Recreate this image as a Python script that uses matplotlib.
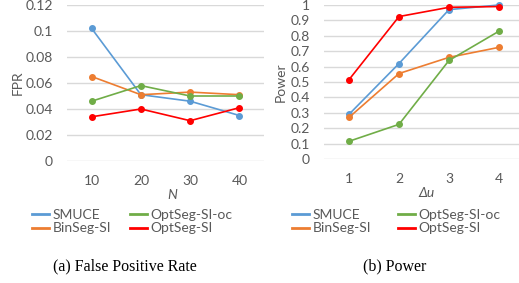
import matplotlib
matplotlib.use("Agg")
import matplotlib.pyplot as plt

# ---- data ----
methods = ["SMUCE", "BinSeg-SI", "OptSeg-SI-oc", "OptSeg-SI"]
colors = ["#5B9BD5", "#ED7D31", "#70AD47", "#FF0000"]

fpr_x = ["10", "20", "30", "40"]
fpr_smuce = [0.102, 0.051, 0.046, 0.035]
fpr_binseg = [0.065, 0.051, 0.053, 0.051]
fpr_optoc = [0.046, 0.058, 0.050, 0.050]
fpr_optseg = [0.034, 0.040, 0.031, 0.041]

pow_x = ["1", "2", "3", "4"]
pow_smuce = [0.29, 0.62, 0.97, 1.00]
pow_binseg = [0.27, 0.555, 0.66, 0.725]
pow_optoc = [0.115, 0.225, 0.64, 0.83]
pow_optseg = [0.515, 0.925, 0.985, 0.99]

fpr_ticks = [0, 0.02, 0.04, 0.06, 0.08, 0.1, 0.12]
fpr_ticklabels = ["0", "0.02", "0.04", "0.06", "0.08", "0.1", "0.12"]
pow_ticks = [0, 0.1, 0.2, 0.3, 0.4, 0.5, 0.6, 0.7, 0.8, 0.9, 1.0]
pow_ticklabels = ["0", "0.1", "0.2", "0.3", "0.4", "0.5", "0.6", "0.7", "0.8", "0.9", "1"]

W, H = 519, 283
fig = plt.figure(figsize=(W / 100, H / 100), dpi=100)
plt.rcParams["font.family"] = ["Lato", "DejaVu Sans"]
GRAY = "#595959"
GRID = "#D9D9D9"
FS = 10


def px_axes(x0, y0, x1, y1):
    return fig.add_axes([x0 / W, 1 - y1 / H, (x1 - x0) / W, (y1 - y0) / H])


def style(ax, ticks, ticklabels, ylim, xcats):
    ax.set_ylim(*ylim)
    ax.set_xlim(-0.5, len(xcats) - 0.5)
    ax.set_yticks(ticks)
    ax.set_yticklabels(ticklabels)
    ax.set_xticks(range(len(xcats)))
    ax.set_xticklabels(xcats)
    for s in ax.spines.values():
        s.set_visible(False)
    ax.grid(axis="y", color=GRID, linewidth=1.0)
    ax.set_axisbelow(True)
    ax.tick_params(axis="both", length=0, labelsize=FS, colors=GRAY)
    ax.tick_params(axis="y", pad=10)
    ax.tick_params(axis="x", pad=10)
    ax.patch.set_alpha(0)


series_fpr = [fpr_smuce, fpr_binseg, fpr_optoc, fpr_optseg]
series_pow = [pow_smuce, pow_binseg, pow_optoc, pow_optseg]

ax1 = px_axes(67, 5, 264, 161)
style(ax1, fpr_ticks, fpr_ticklabels, (0, 0.12), fpr_x)
for m, c, v in zip(methods, colors, series_fpr):
    ax1.plot(range(len(fpr_x)), v, color=c, lw=1.2, marker="o", ms=4, label=m, clip_on=False)
ax1.set_ylabel("FPR", color=GRAY, fontsize=FS, va="center")
ax1.yaxis.set_label_coords(-0.249, 0.5)
ax1.set_xlabel("N", color=GRAY, fontsize=FS, style="italic", va="center")
ax1.xaxis.set_label_coords(0.533, -0.218)

ax2 = px_axes(324, 5, 524, 159)
style(ax2, pow_ticks, pow_ticklabels, (0, 1.0), pow_x)
for m, c, v in zip(methods, colors, series_pow):
    ax2.plot(range(len(pow_x)), v, color=c, lw=1.2, marker="o", ms=4, label=m, clip_on=False)
ax2.set_ylabel("Power", color=GRAY, fontsize=FS, va="center")
ax2.yaxis.set_label_coords(-0.215, 0.5)
ax2.set_xlabel("Δu", color=GRAY, fontsize=FS, style="italic", va="center")
ax2.xaxis.set_label_coords(0.515, -0.22)

# legends: two columns per panel, each column a separate legend
col_x = {0: [32, 130], 1: [292, 398]}
for p in (0, 1):
    for ci in (0, 1):
        idx = [0, 1] if ci == 0 else [2, 3]
        handles = [plt.Line2D([], [], color=colors[i], lw=2) for i in idx]
        labels = [methods[i] for i in idx]
        leg = fig.legend(handles, labels, loc="upper left", ncol=1,
                         bbox_to_anchor=(col_x[p][ci] / W, 1 - 209 / H), frameon=False,
                         fontsize=FS, handlelength=1.25, handletextpad=0.25,
                         labelspacing=0.1, borderpad=0, borderaxespad=0)
        for t in leg.get_texts():
            t.set_color(GRAY)

fig.text(125 / W, 1 - 266 / H, "(a) False Positive Rate", ha="center", va="center",
         family="Liberation Serif", fontsize=11.5, color="black")
fig.text(395 / W, 1 - 266 / H, "(b) Power", ha="center", va="center",
         family="Liberation Serif", fontsize=11.5, color="black")

fig.savefig("out.png", dpi=100)
